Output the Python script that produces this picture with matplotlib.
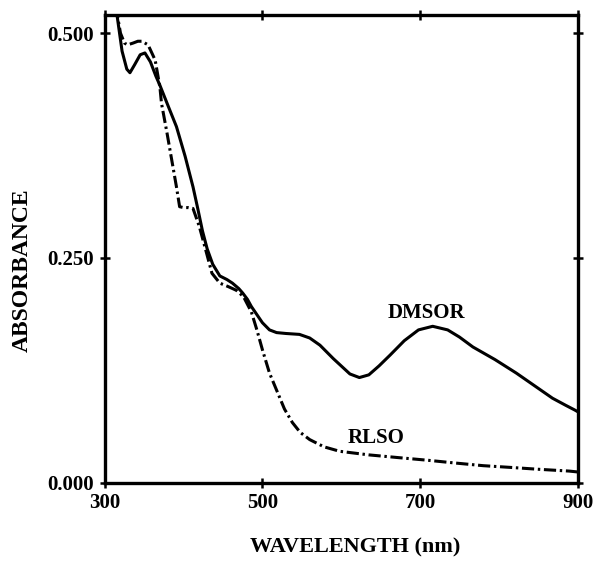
import matplotlib
matplotlib.use('Agg')
import matplotlib.pyplot as plt

# DMSOR spectrum (solid)
dmsor_nm = [314, 322, 328, 332, 338, 345, 351, 358, 365, 370, 380, 391, 402, 412,
            418, 424, 430, 437, 446, 455, 462, 470, 475, 481, 486, 493, 500, 509,
            518, 530, 547, 560, 573, 590, 611, 623, 635, 648, 662, 680, 698, 716,
            735, 750, 767, 795, 822, 845, 868, 885, 896, 900]
dmsor_abs = [0.530, 0.480, 0.460, 0.456, 0.465, 0.476, 0.478, 0.468, 0.452, 0.442,
             0.420, 0.396, 0.363, 0.329, 0.305, 0.280, 0.260, 0.243, 0.230, 0.226,
             0.222, 0.216, 0.211, 0.204, 0.196, 0.187, 0.178, 0.170, 0.167, 0.166,
             0.165, 0.161, 0.153, 0.138, 0.121, 0.117, 0.120, 0.130, 0.142, 0.158,
             0.170, 0.174, 0.170, 0.162, 0.151, 0.137, 0.122, 0.108, 0.094, 0.086,
             0.081, 0.079]

# RLSO spectrum (dash-dot)
rlso_nm = [314, 320, 325, 329, 336, 342, 347, 355, 364, 370, 372, 379, 385, 391,
           395, 400, 406, 412, 420, 429, 436, 446, 457, 467, 476, 486, 493, 500,
           509, 518, 528, 538, 548, 560, 578, 598, 635, 672, 710, 744, 780, 816,
           850, 889, 900]
rlso_abs = [0.530, 0.500, 0.489, 0.487, 0.489, 0.491, 0.491, 0.487, 0.470, 0.440,
            0.422, 0.389, 0.359, 0.329, 0.307, 0.306, 0.306, 0.305, 0.285, 0.256,
            0.233, 0.222, 0.218, 0.214, 0.207, 0.190, 0.170, 0.148, 0.122, 0.103,
            0.082, 0.067, 0.056, 0.048, 0.040, 0.035, 0.031, 0.028, 0.025, 0.022,
            0.019, 0.017, 0.015, 0.013, 0.012]

xticks = [300, 500, 700, 900]
yticks = [0.0, 0.25, 0.5]
ytick_labels = ['0.000', '0.250', '0.500']

plt.rcParams['font.family'] = ['Liberation Serif', 'DejaVu Serif']
plt.rcParams['font.weight'] = 'bold'

fig = plt.figure(figsize=(5.95, 5.62), dpi=100)
ax = fig.add_axes([0.176, 0.141, 0.795, 0.832])

ax.plot(dmsor_nm, dmsor_abs, color='black', lw=2.2, solid_capstyle='round')
ax.plot(rlso_nm, rlso_abs, color='black', lw=2.2, linestyle=(0, (4, 1.2, 0.8, 1.2)))

ax.set_xlim(300, 900)
ax.set_ylim(0, 0.52)
ax.set_xticks(xticks)
ax.set_yticks(yticks)
ax.set_yticklabels(ytick_labels)
ax.tick_params(direction='inout', length=7, width=1.8, labelsize=15,
               top=True, right=True, pad=4)
for s in ax.spines.values():
    s.set_linewidth(2.4)

ax.text(708, 0.189, 'DMSOR', ha='center', va='center', fontsize=15)
ax.text(644, 0.050, 'RLSO', ha='center', va='center', fontsize=15)

fig.text(0.597, 0.025, 'WAVELENGTH (nm)', ha='center', va='center', fontsize=16)
fig.text(0.037, 0.52, 'ABSORBANCE', ha='center', va='center', rotation=90, fontsize=17)

fig.savefig('out.png', dpi=100)
